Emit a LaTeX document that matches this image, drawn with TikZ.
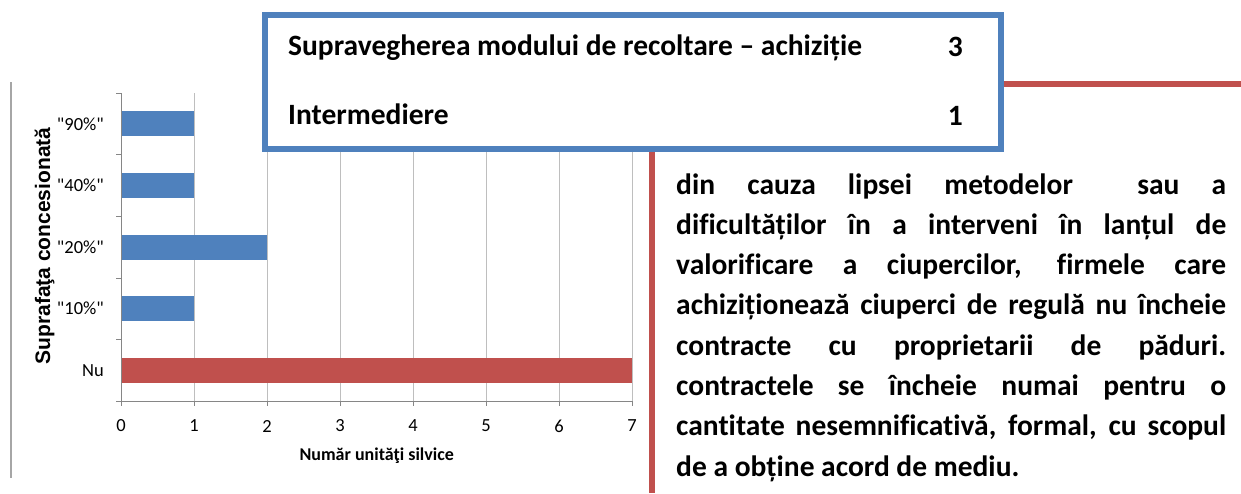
\documentclass[tikz,border=0pt]{standalone}
\usepackage{fontspec}
\setmainfont{Carlito}[Ligatures={NoCommon,TeXOff}]
\newfontfamily\arialfont{Liberation Sans}
\usetikzlibrary{positioning}
\definecolor{barblue}{RGB}{79,129,189}
\definecolor{barred}{RGB}{192,80,77}
\definecolor{gridgray}{RGB}{190,190,190}
\definecolor{axisgray}{RGB}{134,134,134}
\newcommand{\sq}{\symbol{34}}

\begin{document}
\begin{tikzpicture}[x=1pt, y=-1pt,
  ticklbl/.style={font=\fontsize{18.5}{18.5}\selectfont, inner sep=0},
  boxtxt/.style={font=\bfseries\fontsize{29.5}{30}\selectfont, inner sep=0}]
\useasboundingbox (0,0) rectangle (1241,493);

% left frame line
\draw[gray!70, line width=1.5] (11,82) -- (11,478);

% gridlines and bars
\foreach \i in {1,...,7}
  \draw[gridgray] ({121+73*\i},93) -- ({121+73*\i},401);
\foreach \v/\cy/\lab/\col [count=\k] in {1/123.8/\sq90\%\sq/barblue, 1/185.4/\sq40\%\sq/barblue, 2/247/\sq20\%\sq/barblue, 1/308.6/\sq10\%\sq/barblue, 7/370.2/Nu/barred}{
  \fill[\col] (121,\cy-12.5) rectangle ({121+73*\v},\cy+12.5);
  \node[ticklbl, anchor=east] (cat\k) at (104,\cy) {\lab};
}

% axes
\draw[axisgray] (121,93) -- (121,401);
\foreach \t in {0,...,5}
  \draw[axisgray] (116,{93+61.6*\t}) -- (121,{93+61.6*\t});
\draw[axisgray] (116,401) -- (632,401);
\foreach \i in {0,...,7}{
  \draw[axisgray] ({121+73*\i},401) -- ({121+73*\i},406);
  \node[ticklbl] (xl\i) at ({121+73*\i},426) {\i};
}
\node[font=\bfseries\fontsize{18}{18}\selectfont] (xtitle) at (376.7,456) {Număr unităţi silvice};
\node[rotate=90, font=\arialfont\bfseries\fontsize{21}{21}\selectfont] (ytitle) at (44.5,246) {Suprafaţa concesionată};

% legend box
\node[draw=barblue, fill=white, line width=6.5, minimum width=736, minimum height=134, inner sep=0] (legbox) at (633,82) {};
\node[boxtxt, anchor=base west] (row1) at (288,55) {Supravegherea modului de recoltare – achiziție};
\node[boxtxt, anchor=base east] (val1) at (963,56) {3};
\node[boxtxt, anchor=base west] (row2) at (288,124) {Intermediere};
\node[boxtxt, anchor=base east] (val2) at (963,125) {1};

% red rules
\coordinate (redend) at (1241,84);
\coordinate (redfoot) at (652.3,493);
\draw[barred, line width=6.6] (legbox.east |- redend) -- (redend);
\draw[barred, line width=6] (legbox.south -| redfoot) -- (redfoot);

% comment text
\node[anchor=base west, text width=550, align=justify, inner sep=0,
  font=\bfseries\fontsize{29.5}{40.3}\selectfont] (para) at (676,194)
  {\hyphenpenalty=10000 \tolerance=10000
  din cauza lipsei metodelor\ \ sau a\linebreak
  dificultăților în a interveni în lanțul de\linebreak
  valorificare a ciupercilor, firmele care\linebreak
  achiziționează ciuperci de regulă nu încheie\linebreak
  contracte cu proprietarii de păduri.\linebreak
  contractele se încheie numai pentru o\linebreak
  cantitate nesemnificativă, formal, cu scopul\linebreak
  de a obține acord de mediu.};
\end{tikzpicture}
\end{document}
